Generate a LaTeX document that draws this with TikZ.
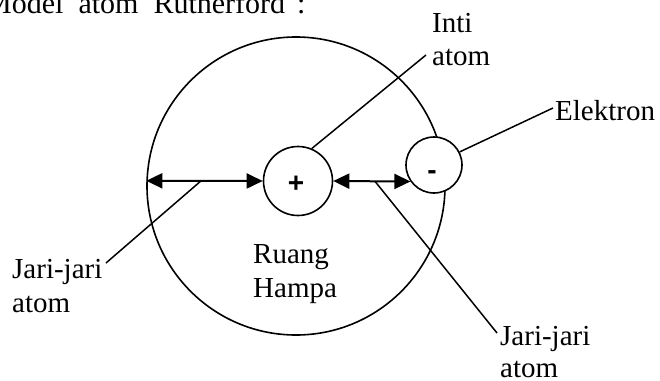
\documentclass[tikz,border=0pt]{standalone}
\usepackage{fontspec}
\setmainfont{Liberation Serif}
\newfontfamily\signfont{Liberation Sans}
\usetikzlibrary{arrows.meta}
\begin{document}
\begin{tikzpicture}[x=1pt,y=-1pt,
  lbl/.style={font=\fontsize{29}{33}\selectfont, inner sep=0pt, anchor=base west},
  sign/.style={font=\signfont\bfseries\fontsize{28}{32}\selectfont, inner sep=0pt, anchor=base},
  ring/.style={circle, draw, line width=1.6pt, inner sep=0pt},
  conn/.style={line width=1.5pt},
  radiusarrow/.style={line width=2pt, {Triangle[length=16pt,width=15pt]}-{Triangle[length=16pt,width=15pt]}}]
\useasboundingbox (0,0) rectangle (660,380);
% title (cut off at the top)
\node[lbl, font=\fontsize{30}{34}\selectfont] (title) at (-15,13) {Model\hspace{15pt}atom\hspace{15pt}Rutherford\hspace{12pt}:};
% circles
\node[ring, minimum size=298pt] (atom) at (296,186) {};
\node[ring, minimum size=69pt, fill=white] (nuc) at (298,181) {};
\node[ring, minimum size=56pt, fill=white] (el) at (434,165) {};
\node[sign] (plus) at (296,192) {+};
\node[sign] (minus) at (432,179) {-};
% radius arrows
\draw[radiusarrow] (atom.178) -- coordinate[pos=0.47] (lmid) (nuc.west);
\draw[radiusarrow] (nuc.east) -- coordinate[pos=0.54] (rmid) (el.215);
% labels
\node[lbl] (inti1) at (432,32) {Inti};
\node[lbl] (inti2) at (432,65) {atom};
\node[lbl] (elek) at (555,120) {Elektron};
\node[lbl] (ljari1) at (12,278) {Jari-jari};
\node[lbl] (ljari2) at (12,312) {atom};
\node[lbl] (rjari1) at (500,345) {Jari-jari};
\node[lbl] (rjari2) at (500,377) {atom};
\node[lbl] (ruang1) at (253,263) {Ruang};
\node[lbl] (ruang2) at (253,297) {Hampa};
% connector ends
\coordinate (intiend) at (426,55);
\coordinate (elend) at (553,108);
\coordinate (ljend) at (106,263);
\coordinate (rjend) at (497,333);
% connectors
\draw[conn] (nuc.67) -- (intiend);
\draw[conn] (el.27) -- (elend);
\draw[conn] (lmid) -- (ljend);
\draw[conn] (rmid) -- (rjend);
\end{tikzpicture}
\end{document}
